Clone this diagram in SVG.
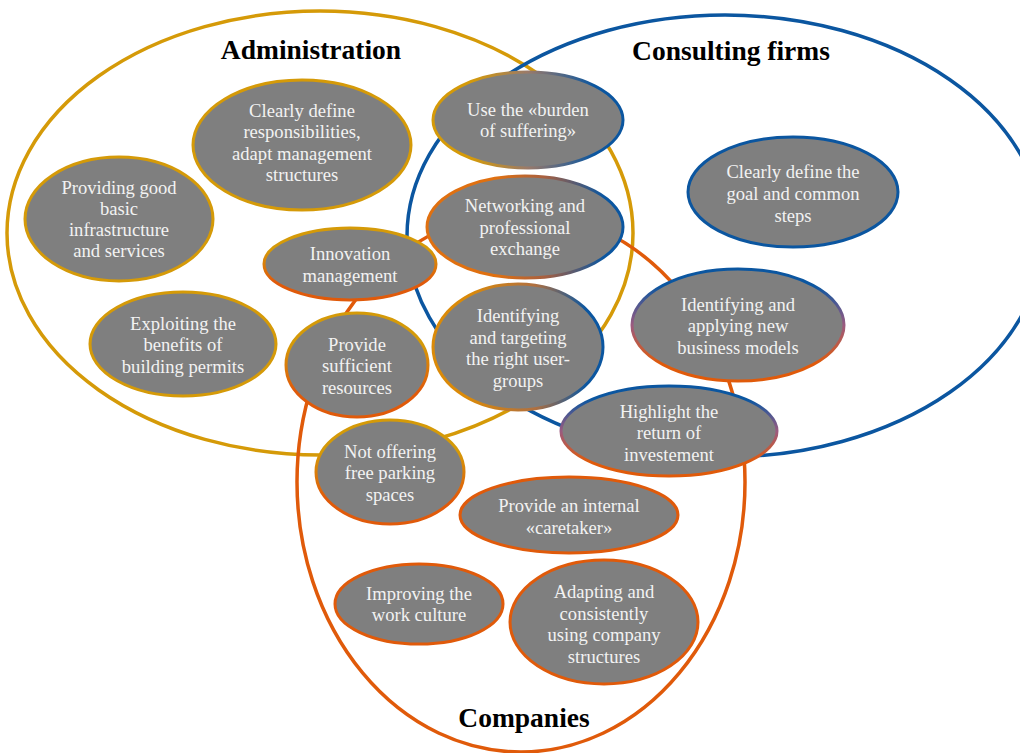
<svg xmlns="http://www.w3.org/2000/svg" width="1020" height="753" viewBox="0 0 1020 753">
<style>
.set{fill:none;stroke-width:3.5}
.node{fill:#7F7F7F;stroke-width:3}
.t{font-family:"Liberation Serif","Times New Roman",serif;font-size:18.6px;fill:#F2F2F2;text-anchor:middle}
.title{font-family:"Liberation Serif","Times New Roman",serif;font-size:27.5px;font-weight:bold;fill:#000;text-anchor:middle}
</style>
<defs>
<linearGradient id="gV_go" x1="0" y1="0" x2="0" y2="1"><stop offset="0.3" stop-color="#D59A08"/><stop offset="0.75" stop-color="#E05A0A"/></linearGradient>
<linearGradient id="gH_gb" x1="0" y1="0" x2="1" y2="0"><stop offset="0.2" stop-color="#D59A08"/><stop offset="0.5" stop-color="#9A7A6A"/><stop offset="0.85" stop-color="#0B56A0"/></linearGradient>
<linearGradient id="gH_ob" x1="0" y1="0" x2="1" y2="0"><stop offset="0.35" stop-color="#E07010"/><stop offset="0.6" stop-color="#A86040"/><stop offset="0.9" stop-color="#0B56A0"/></linearGradient>
<linearGradient id="gH_gob" x1="0" y1="0" x2="1" y2="0"><stop offset="0.2" stop-color="#DB8A08"/><stop offset="0.6" stop-color="#B07040"/><stop offset="0.9" stop-color="#0B56A0"/></linearGradient>
<linearGradient id="gV_bo" x1="0" y1="0" x2="0" y2="1"><stop offset="0.15" stop-color="#0B56A0"/><stop offset="0.5" stop-color="#9A5A80"/><stop offset="0.85" stop-color="#E05A0A"/></linearGradient>
</defs>
<g id="sets">
<ellipse id="set-administration" class="set" cx="320" cy="233" rx="313" ry="222" stroke="#D59A08"/>
<ellipse id="set-consulting" class="set" cx="725" cy="236" rx="318" ry="221" stroke="#0B56A0"/>
<ellipse id="set-companies" class="set" cx="521" cy="482" rx="224" ry="270" stroke="#E05A0A"/>
</g>
<g id="titles">
<text class="title" x="311" y="59">Administration</text>
<text class="title" x="731" y="60">Consulting firms</text>
<text class="title" x="524" y="727">Companies</text>
</g>
<g id="n1"><ellipse class="node" cx="302" cy="145" rx="109" ry="65" stroke="#D59A08"/>
<text class="t" x="302" y="117">Clearly define</text><text class="t" x="302" y="138">responsibilities,</text><text class="t" x="302" y="160">adapt management</text><text class="t" x="302" y="181">structures</text></g>
<g id="n2"><ellipse class="node" cx="119" cy="219" rx="94" ry="62" stroke="#D59A08"/>
<text class="t" x="119" y="194">Providing good</text><text class="t" x="119" y="215">basic</text><text class="t" x="119" y="236">infrastructure</text><text class="t" x="119" y="257">and services</text></g>
<g id="n3"><ellipse class="node" cx="350" cy="264" rx="86" ry="36" stroke="url(#gV_go)"/>
<text class="t" x="350" y="260">Innovation</text><text class="t" x="350" y="282">management</text></g>
<g id="n4"><ellipse class="node" cx="183" cy="344" rx="93" ry="52" stroke="#D59A08"/>
<text class="t" x="183" y="330">Exploiting the</text><text class="t" x="183" y="351">benefits of</text><text class="t" x="183" y="373">building permits</text></g>
<g id="n5"><ellipse class="node" cx="357" cy="365" rx="71" ry="52" stroke="url(#gV_go)"/>
<text class="t" x="357" y="351">Provide</text><text class="t" x="357" y="372">sufficient</text><text class="t" x="357" y="394">resources</text></g>
<g id="n6"><ellipse class="node" cx="528" cy="120" rx="95" ry="48" stroke="url(#gH_gb)"/>
<text class="t" x="528" y="116">Use the «burden</text><text class="t" x="528" y="137">of suffering»</text></g>
<g id="n7"><ellipse class="node" cx="525" cy="227" rx="98" ry="51" stroke="url(#gH_ob)"/>
<text class="t" x="525" y="212">Networking and</text><text class="t" x="525" y="234">professional</text><text class="t" x="525" y="255">exchange</text></g>
<g id="n8"><ellipse class="node" cx="518" cy="347" rx="85" ry="63" stroke="url(#gH_gob)"/>
<text class="t" x="518" y="322">Identifying</text><text class="t" x="518" y="344">and targeting</text><text class="t" x="518" y="365">the right user-</text><text class="t" x="518" y="387">groups</text></g>
<g id="n9"><ellipse class="node" cx="793" cy="192" rx="105" ry="55" stroke="#0B56A0"/>
<text class="t" x="793" y="178">Clearly define the</text><text class="t" x="793" y="200">goal and common</text><text class="t" x="793" y="222">steps</text></g>
<g id="n10"><ellipse class="node" cx="738" cy="325" rx="106" ry="56" stroke="url(#gV_bo)"/>
<text class="t" x="738" y="311">Identifying and</text><text class="t" x="738" y="332">applying new</text><text class="t" x="738" y="354">business models</text></g>
<g id="n11"><ellipse class="node" cx="669" cy="431" rx="108" ry="45" stroke="url(#gV_bo)"/>
<text class="t" x="669" y="418">Highlight the</text><text class="t" x="669" y="439">return of</text><text class="t" x="669" y="461">investement</text></g>
<g id="n12"><ellipse class="node" cx="390" cy="472" rx="74" ry="52" stroke="url(#gV_go)"/>
<text class="t" x="390" y="458">Not offering</text><text class="t" x="390" y="479">free parking</text><text class="t" x="390" y="501">spaces</text></g>
<g id="n13"><ellipse class="node" cx="569" cy="515" rx="109" ry="38" stroke="#E05A0A"/>
<text class="t" x="569" y="512">Provide an internal</text><text class="t" x="569" y="534">«caretaker»</text></g>
<g id="n14"><ellipse class="node" cx="419" cy="604" rx="84" ry="40" stroke="#E05A0A"/>
<text class="t" x="419" y="600">Improving the</text><text class="t" x="419" y="621">work culture</text></g>
<g id="n15"><ellipse class="node" cx="604" cy="622" rx="94" ry="62" stroke="#E05A0A"/>
<text class="t" x="604" y="598">Adapting and</text><text class="t" x="604" y="620">consistently</text><text class="t" x="604" y="641">using company</text><text class="t" x="604" y="663">structures</text></g>
</svg>
